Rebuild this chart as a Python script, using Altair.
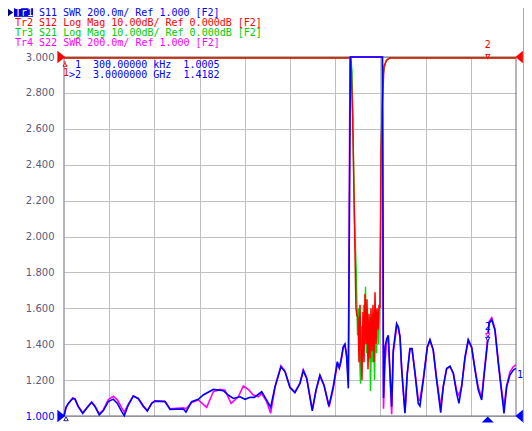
import altair as alt
import pandas as pd

# ---------------- data ----------------
F_START = 0.0003   # GHz (300 kHz)
F_STOP = 3.2       # GHz

# Tr1 S11 SWR  (frequency GHz, SWR)
S11 = [(0.0003, 1.000), (0.0145, 1.048), (0.031, 1.070), (0.062, 1.098), (0.078, 1.094),
       (0.101, 1.052), (0.133, 1.015), (0.161, 1.043), (0.196, 1.076), (0.220, 1.052),
       (0.250, 1.006), (0.279, 1.030), (0.314, 1.080), (0.349, 1.094), (0.378, 1.070),
       (0.409, 1.024), (0.427, 1.002), (0.455, 1.061), (0.491, 1.111), (0.526, 1.098),
       (0.562, 1.056), (0.590, 1.028), (0.621, 1.070), (0.644, 1.083), (0.715, 1.080),
       (0.751, 1.037), (0.845, 1.039), (0.864, 1.022), (0.904, 1.080), (0.951, 1.093),
       (0.986, 1.117), (1.057, 1.148), (1.128, 1.141), (1.163, 1.117), (1.199, 1.098),
       (1.246, 1.107), (1.282, 1.093), (1.317, 1.104), (1.347, 1.104), (1.400, 1.135),
       (1.435, 1.089), (1.463, 1.048), (1.494, 1.163), (1.536, 1.274), (1.565, 1.246),
       (1.600, 1.159), (1.635, 1.130), (1.671, 1.181), (1.694, 1.252), (1.718, 1.209),
       (1.758, 1.028), (1.784, 1.144), (1.812, 1.228), (1.841, 1.172), (1.876, 1.056),
       (1.906, 1.163), (1.935, 1.302), (1.949, 1.270), (1.961, 1.311), (1.977, 1.385),
       (1.989, 1.400), (2.001, 1.330), (2.013, 1.154), (2.028, 3.5), (2.032, 6.0),
       (2.138, 9.0), (2.255, 5.0), (2.262, 1.10), (2.273, 1.385), (2.285, 1.431),
       (2.296, 1.450), (2.308, 1.237), (2.320, 1.052), (2.331, 1.367), (2.355, 1.515),
       (2.367, 1.496), (2.379, 1.441), (2.391, 1.256), (2.414, 1.015), (2.430, 1.237),
       (2.449, 1.376), (2.464, 1.376), (2.485, 1.237), (2.508, 1.070), (2.520, 1.056),
       (2.544, 1.200), (2.572, 1.385), (2.591, 1.426), (2.614, 1.367), (2.638, 1.200),
       (2.667, 1.019), (2.685, 1.163), (2.709, 1.265), (2.733, 1.278), (2.756, 1.237),
       (2.780, 1.126), (2.796, 1.070), (2.815, 1.163), (2.839, 1.330), (2.862, 1.426),
       (2.886, 1.385), (2.910, 1.256), (2.933, 1.144), (2.957, 1.089), (2.973, 1.219),
       (3.000, 1.418), (3.009, 1.515), (3.028, 1.537), (3.051, 1.478), (3.075, 1.293),
       (3.099, 1.126), (3.115, 1.015), (3.134, 1.163), (3.157, 1.228), (3.181, 1.256),
       (3.200, 1.265)]

# Tr4 S22 SWR
S22 = [(0.0003, 1.000), (0.0145, 1.045), (0.031, 1.070), (0.062, 1.100), (0.078, 1.096),
       (0.101, 1.055), (0.133, 1.017), (0.161, 1.045), (0.196, 1.078), (0.220, 1.055),
       (0.250, 1.012), (0.279, 1.035), (0.314, 1.092), (0.349, 1.110), (0.378, 1.090),
       (0.409, 1.045), (0.427, 1.022), (0.455, 1.065), (0.491, 1.112), (0.526, 1.096),
       (0.562, 1.052), (0.590, 1.030), (0.621, 1.072), (0.644, 1.085), (0.715, 1.082),
       (0.751, 1.040), (0.845, 1.045), (0.864, 1.040), (0.904, 1.075), (0.951, 1.089),
       (1.010, 1.048), (1.057, 1.135), (1.105, 1.148), (1.140, 1.144), (1.183, 1.070),
       (1.234, 1.107), (1.270, 1.167), (1.305, 1.148), (1.340, 1.117), (1.376, 1.107),
       (1.400, 1.125), (1.435, 1.080), (1.463, 1.015), (1.494, 1.160), (1.536, 1.280),
       (1.565, 1.250), (1.600, 1.160), (1.635, 1.133), (1.671, 1.185), (1.694, 1.258),
       (1.718, 1.215), (1.758, 1.035), (1.784, 1.140), (1.812, 1.222), (1.841, 1.170),
       (1.876, 1.050), (1.906, 1.150), (1.935, 1.290), (1.949, 1.265), (1.961, 1.300),
       (1.977, 1.380), (1.989, 1.398), (2.001, 1.340), (2.013, 1.200), (2.025, 3.5),
       (2.138, 9.0), (2.253, 5.0), (2.262, 1.04), (2.273, 1.300), (2.285, 1.420),
       (2.296, 1.440), (2.308, 1.230), (2.320, 1.010), (2.331, 1.350), (2.355, 1.498),
       (2.367, 1.490), (2.379, 1.440), (2.391, 1.260), (2.414, 1.020), (2.430, 1.230),
       (2.449, 1.370), (2.464, 1.372), (2.485, 1.245), (2.508, 1.090), (2.520, 1.088),
       (2.544, 1.210), (2.572, 1.380), (2.591, 1.420), (2.614, 1.370), (2.638, 1.210),
       (2.667, 1.052), (2.685, 1.165), (2.709, 1.262), (2.733, 1.275), (2.756, 1.240),
       (2.780, 1.140), (2.796, 1.115), (2.815, 1.165), (2.839, 1.320), (2.862, 1.420),
       (2.886, 1.380), (2.910, 1.260), (2.933, 1.160), (2.957, 1.105), (2.973, 1.230),
       (3.000, 1.440), (3.009, 1.525), (3.028, 1.548), (3.051, 1.485), (3.075, 1.300),
       (3.099, 1.140), (3.115, 1.052), (3.134, 1.170), (3.157, 1.245), (3.181, 1.275),
       (3.200, 1.285)]

# Tr2 S12 Log Mag (frequency GHz, dB)
S12_DB = [(0.0003, -0.3), (2.028, -0.3), (2.032, -1.0), (2.044, -17), (2.053, -38),
          (2.067, -70), (2.074, -72), (2.0815, -72.5), (2.0886, -85), (2.0957, -69),
          (2.1027, -83), (2.1098, -90), (2.1169, -71), (2.1240, -85), (2.1311, -66),
          (2.1381, -80), (2.1452, -67.5), (2.1523, -87), (2.1594, -71.5), (2.1665, -84),
          (2.1735, -70), (2.1806, -82), (2.1877, -69), (2.1948, -85), (2.2018, -65.5),
          (2.2089, -80), (2.2160, -70), (2.2231, -76), (2.2302, -69), (2.2373, -70),
          (2.2443, -25.5), (2.2536, -13), (2.2656, -2.5), (2.2868, -0.75), (2.3081, -0.3),
          (3.2, -0.3)]

# Tr3 S21 Log Mag (frequency GHz, dB)
S21_DB = [(0.0003, -0.2), (2.028, -0.2), (2.0305, -0.3), (2.039, -4), (2.0567, -45),
          (2.0694, -60), (2.0780, -77.5), (2.0851, -70), (2.0922, -82.5), (2.0992, -91),
          (2.1063, -75), (2.1134, -80), (2.1205, -69), (2.1276, -77.5), (2.1346, -64),
          (2.1417, -82.5), (2.1488, -70), (2.1559, -85), (2.1630, -72.5), (2.1700, -93),
          (2.1771, -77.5), (2.1842, -85), (2.1913, -72.5), (2.1984, -90), (2.2054, -75),
          (2.2125, -82.5), (2.2196, -71), (2.2267, -80), (2.2338, -72.5), (2.2408, -50),
          (2.2479, -20), (2.2585, -5), (2.2798, -1), (2.3081, -0.2), (3.2, -0.2)]

Y_TICKS = [1.0, 1.2, 1.4, 1.6, 1.8, 2.0, 2.2, 2.4, 2.6, 2.8, 3.0]
X_GRID = [round(F_START + i * (F_STOP - F_START) / 10, 5) for i in range(1, 10)]

MARKER_F = [0.0003, 3.0]
S11_MARK = [1.0005, 1.4182]
S22_MARK2 = 1.440
S12_MARK_DB = -0.3

HEAD_TR1 = "Tr1"
HEADER = ["S11 SWR 200.0m/ Ref 1.000 [F2]",
          "Tr2 S12 Log Mag 10.00dB/ Ref 0.000dB [F2]",
          "Tr3 S21 Log Mag 10.00dB/ Ref 0.000dB [F2]",
          "Tr4 S22 SWR 200.0m/ Ref 1.000 [F2]"]
READOUTS = ["1  300.00000 kHz  1.0005", ">2  3.0000000 GHz  1.4182"]

# ---------------- styling ----------------
BLUE, RED, GREEN, MAG = "#0000ff", "#ff0000", "#00dd00", "#ff00ff"
HEAD_COLORS = [BLUE, RED, "#00cc00", MAG]
MONO = "DejaVu Sans Mono"
W, H = 452, 359


def db_to_v(db):
    # 10 dB/div on a 0.2 SWR/div screen, reference 0 dB at top (3.000)
    return 3.0 + db / 50.0


df11 = pd.DataFrame(S11, columns=["f", "v"])
df22 = pd.DataFrame(S22, columns=["f", "v"])
df12 = pd.DataFrame(S12_DB, columns=["f", "db"])
df12["v"] = db_to_v(df12["db"])
df21 = pd.DataFrame(S21_DB, columns=["f", "db"])
df21["v"] = db_to_v(df21["db"])

xs = alt.Scale(domain=[F_START, F_STOP], nice=False, zero=False)
ys = alt.Scale(domain=[1.0, 3.0], nice=False, zero=False, clamp=True)
X = alt.X("f:Q", scale=xs,
          axis=alt.Axis(values=X_GRID, labels=False, ticks=False, domain=False,
                        grid=True, gridColor="#c0c0c0", gridWidth=1, title=None))
Y = alt.Y("v:Q", scale=ys,
          axis=alt.Axis(values=Y_TICKS, format=".3f", ticks=False, domain=False,
                        grid=True, gridColor="#c0c0c0", gridWidth=1, title=None,
                        labelPadding=10, labelFont="DejaVu Sans", labelFontSize=10,
                        labelColor={"condition": {"test": "datum.value == 1", "value": BLUE},
                                    "value": "#5a5a7a"}))

one = pd.DataFrame({"k": [0]})
layers = []

# plot frame
layers.append(alt.Chart(one).mark_rect(fillOpacity=0, stroke="#686884", strokeWidth=1).encode(
    x=alt.value(0), x2=alt.value(W), y=alt.value(0), y2=alt.value(H)))

# traces
layers.append(alt.Chart(df21).mark_line(color=GREEN, strokeWidth=1.4).encode(x=X, y=Y))
layers.append(alt.Chart(df12).mark_line(color=RED, strokeWidth=1.5).encode(x=X, y=Y))
layers.append(alt.Chart(df22).mark_line(color=MAG, strokeWidth=1.6).encode(x=X, y=Y))
layers.append(alt.Chart(df11).mark_line(color=BLUE, strokeWidth=1.6).encode(x=X, y=Y))

# reference-position triangles
ref_top = pd.DataFrame({"f": [F_START], "v": [3.0]})
ref_top_r = pd.DataFrame({"f": [F_STOP], "v": [3.0]})
ref_bot = pd.DataFrame({"f": [F_START], "v": [1.0]})
ref_bot_r = pd.DataFrame({"f": [F_STOP], "v": [1.0]})
LEFT_TIP = "M0.2,0L-1.1,-1.05L-1.1,1.05Z"
RIGHT_TIP = "M-0.1,0L1.15,-1.05L1.15,1.05Z"
for d, shp, col in [(ref_top, LEFT_TIP, RED), (ref_top_r, RIGHT_TIP, RED),
                    (ref_bot, LEFT_TIP, BLUE), (ref_bot_r, RIGHT_TIP, BLUE)]:
    layers.append(alt.Chart(d).mark_point(shape=shp, size=144, filled=True, color=col,
                                          opacity=1, strokeWidth=0).encode(x=X, y=Y))

# active marker stimulus indicator at bottom
stim = pd.DataFrame({"f": [MARKER_F[1]], "v": [1.0]})
layers.append(alt.Chart(stim).mark_point(shape="M0,0.1L-1,1.1L1,1.1Z", size=144, filled=True,
                                         color=BLUE, opacity=1, strokeWidth=0).encode(x=X, y=Y))

# marker 1 of S11 at bottom-left
m1 = pd.DataFrame({"f": [MARKER_F[0]], "v": [S11_MARK[0]]})
layers.append(alt.Chart(m1).mark_point(shape="M0,0L-1,1.7L1,1.7Z", size=20, filled=True,
                                       fill="white", stroke="#2020a0", strokeWidth=1,
                                       opacity=1, xOffset=2, yOffset=1).encode(x=X, y=Y))

# marker 1 of S12 at top-left
m1r = pd.DataFrame({"f": [MARKER_F[0]], "v": [db_to_v(S12_MARK_DB)]})
layers.append(alt.Chart(m1r).mark_point(shape="M0,-1L0,0M0,0L-1,1.6L1,1.6Z", size=16, filled=True,
                                        fill="white", stroke=RED, strokeWidth=1, opacity=1,
                                        xOffset=1, yOffset=5).encode(x=X, y=Y))
layers.append(alt.Chart(m1r).mark_text(text="1", font=MONO, fontSize=10, color=RED,
                                       dx=2, dy=15).encode(x=X, y=Y))

# marker 2 on S12 (top)
m2r = pd.DataFrame({"f": [MARKER_F[1]], "v": [db_to_v(S12_MARK_DB)]})
DOWN = "M0,0L-1,-1.75L1,-1.75Z M0,0L0,0.6"
layers.append(alt.Chart(m2r).mark_point(shape=DOWN, size=18, filled=True, fill="white",
                                        stroke=RED, strokeWidth=1, opacity=1).encode(x=X, y=Y))
layers.append(alt.Chart(m2r).mark_text(text="2", font=MONO, fontSize=10, color=RED,
                                       dy=-13).encode(x=X, y=Y))

# marker 2 on S22 (symbol only, its label lies under S11's) and S11
m2m = pd.DataFrame({"f": [MARKER_F[1]], "v": [S22_MARK2]})
m2b = pd.DataFrame({"f": [MARKER_F[1]], "v": [S11_MARK[1]]})
layers.append(alt.Chart(m2m).mark_point(shape=DOWN, size=18, filled=True, fill="white",
                                        stroke=MAG, strokeWidth=1, opacity=1).encode(x=X, y=Y))
layers.append(alt.Chart(m2b).mark_point(shape=DOWN, size=18, filled=True, fill="white",
                                        stroke=BLUE, strokeWidth=1, opacity=1).encode(x=X, y=Y))
layers.append(alt.Chart(m2b).mark_text(text="2", font=MONO, fontSize=10, color=BLUE,
                                       dy=-14).encode(x=X, y=Y))

# right-edge marker tag
layers.append(alt.Chart(one).mark_text(text="1", font=MONO, fontSize=10, color=BLUE,
                                       align="left", baseline="middle").encode(
    x=alt.value(453), y=alt.value(318)))

# header
layers.append(alt.Chart(one).mark_point(shape="M1,0L-1,-1.4L-1,1.4Z", size=36, filled=True,
                                        color="#000080", opacity=1, strokeWidth=0).encode(
    x=alt.value(-53.7), y=alt.value(-44.5)))
layers.append(alt.Chart(one).mark_rect(color="#0000e0").encode(
    x=alt.value(-50), x2=alt.value(-31), y=alt.value(-48.8), y2=alt.value(-40.2)))
layers.append(alt.Chart(one).mark_text(text=HEAD_TR1, font=MONO, fontSize=10, color="white",
                                       align="left", baseline="middle").encode(
    x=alt.value(-49), y=alt.value(-43.8)))
for i, (txt, col) in enumerate(zip(HEADER, HEAD_COLORS)):
    x0 = -25 if i == 0 else -49
    layers.append(alt.Chart(one).mark_text(text=txt, font=MONO, fontSize=10, color=col,
                                           align="left", baseline="middle").encode(
        x=alt.value(x0), y=alt.value(-43.8 + 9.95 * i)))

# marker readouts
for i, txt in enumerate(READOUTS):
    x0 = 11 if i == 0 else 5
    layers.append(alt.Chart(one).mark_text(text=txt.replace(" ", "\u00a0"), font=MONO,
                                           fontSize=10, color=BLUE, align="left",
                                           baseline="middle").encode(
        x=alt.value(x0), y=alt.value(7.6 + 10 * i)))

# window frame hint at the right edge
layers.append(alt.Chart(one).mark_rect(color="#a8a8b0").encode(
    x=alt.value(459), x2=alt.value(463), y=alt.value(-49), y2=alt.value(366)))

chart = alt.layer(*layers).properties(
    width=W, height=H,
    padding={"left": 56, "top": 49, "right": 8, "bottom": 7},
    autosize=alt.AutoSizeParams(type="none"),
    background="white",
).configure_view(strokeWidth=0)

chart.save("out.html", embed_options={"renderer": "svg", "actions": False})
